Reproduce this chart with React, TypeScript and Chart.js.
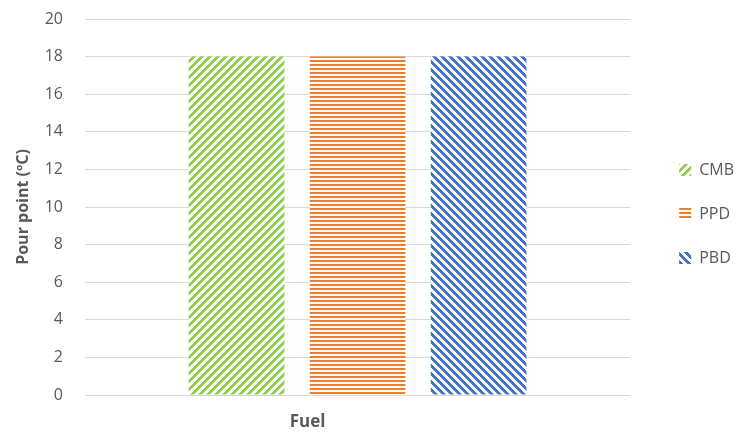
import React, { useEffect, useRef } from "react";
import { Chart, registerables } from "chart.js";

Chart.register(...registerables);

const categories = ["Fuel"];
const seriesNames = ["CMB", "PPD", "PBD"];
const cmbValues = [18];
const ppdValues = [18];
const pbdValues = [18];
const yTicks = { min: 0, max: 20, step: 2 };

function makePattern(kind: string, color: string): CanvasPattern | string {
  const c = document.createElement("canvas");
  c.width = 8;
  c.height = 8;
  const ctx = c.getContext("2d");
  if (!ctx) return color;
  ctx.fillStyle = "#ffffff";
  ctx.fillRect(0, 0, 8, 8);
  ctx.fillStyle = color;
  for (let y = 0; y < 8; y++) {
    for (let x = 0; x < 8; x++) {
      let on = false;
      if (kind === "up") on = (x + y) % 8 < 4;
      else if (kind === "down") on = ((x - y + 16) % 8) < 4;
      else if (kind === "horiz") on = y % 4 < 2;
      if (on) ctx.fillRect(x, y, 1, 1);
    }
  }
  const p = ctx.createPattern(c, "repeat");
  return p || color;
}

// Nudge legend and the x-axis title box (scale pixels are already configured).
const layoutTweaks = {
  id: "layoutTweaks",
  afterLayout(chart: any) {
    const lg = chart.legend;
    if (lg) {
      lg.left += 21;
      lg.right += 21;
      lg.top -= 3;
      lg.bottom -= 3;
    }
    const xs = chart.scales.x;
    if (xs) {
      xs.left -= 50;
      xs.right -= 50;
    }
  },
};

export default function App() {
  const ref = useRef<HTMLCanvasElement>(null);
  useEffect(() => {
    document.body.style.margin = "0";
    const canvas = ref.current;
    if (!canvas) return;
    const font = "'Open Sans', 'Liberation Sans', sans-serif";
    const green = makePattern("up", "#92d050");
    const orange = makePattern("horiz", "#ed7d31");
    const blue = makePattern("down", "#4472c4");
    const chart = new Chart(canvas, {
      type: "bar",
      data: {
        labels: categories,
        datasets: [
          { label: seriesNames[0], data: cmbValues, backgroundColor: green as any, borderWidth: 0 },
          { label: seriesNames[1], data: ppdValues, backgroundColor: orange as any, borderWidth: 0 },
          { label: seriesNames[2], data: pbdValues, backgroundColor: blue as any, borderWidth: 0 },
        ],
      },
      plugins: [layoutTweaks],
      options: {
        animation: false,
        responsive: false,
        devicePixelRatio: 1,
        categoryPercentage: 0.666,
        barPercentage: 0.79,
        layout: { padding: { top: 0, left: 0, right: 19, bottom: 0 } },
        plugins: {
          tooltip: { enabled: false },
          legend: {
            position: "right",
            labels: {
              boxWidth: 12,
              boxHeight: 12,
              padding: 28,
              color: "#595959",
              font: { family: font, size: 16 },
            },
          },
        },
        scales: {
          x: {
            grid: { display: false },
            border: { display: false },
            ticks: { display: false },
            afterFit: (s: any) => {
              s.height = 39;
            },
            title: {
              display: true,
              text: categories[0],
              color: "#595959",
              font: { family: font, size: 17, weight: "bold" },
              padding: { top: 0, bottom: 2 },
            },
          },
          y: {
            min: yTicks.min,
            max: yTicks.max,
            afterFit: (s: any) => {
              s.width = 85;
              s.paddingTop = 19;
              s.paddingBottom = 0;
            },
            ticks: {
              stepSize: yTicks.step,
              color: "#595959",
              font: { family: font, size: 16 },
              padding: 22,
            },
            grid: { color: "#d9d9d9", drawTicks: false },
            border: { display: false },
            title: {
              display: true,
              text: "Pour point (ºC)",
              color: "#595959",
              font: { family: font, size: 16, weight: "bold" },
              padding: { top: 14, bottom: 0 },
            },
          },
        },
      },
    });
    return () => chart.destroy();
  }, []);
  return <canvas ref={ref} width={742} height={434} style={{ display: "block" }} />;
}
